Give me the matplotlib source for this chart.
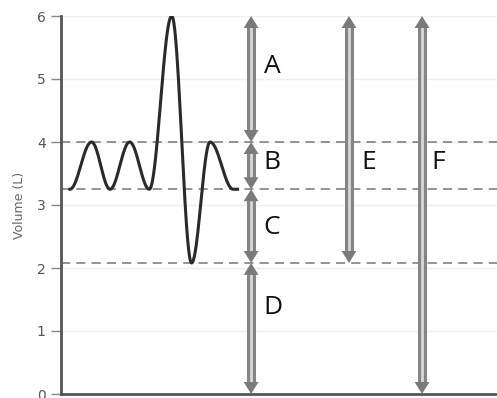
import matplotlib as mpl
mpl.use("Agg")
from matplotlib import pyplot as plt
import numpy as np

# spirogram turning points (time in s, volume in L)
turn_t = [0.41, 1.40, 2.25, 3.15, 4.05, 5.08, 5.99, 6.84, 7.90, 8.10]
turn_v = [3.25, 4.0, 3.25, 4.0, 3.25, 6.0, 2.08, 4.0, 3.25, 3.25]

# reference levels (dashed lines)
levels = [4.0, 3.25, 2.08]

# labelled volume arrows: name, x, bottom, top, label x, label y
arrow_names = ["A", "B", "C", "D", "E", "F"]
arrow_x = [8.72, 8.72, 8.72, 8.72, 13.21, 16.56]
arrow_lo = [4.0, 3.25, 2.08, 0.0, 2.08, 0.0]
arrow_hi = [6.0, 4.0, 3.25, 2.08, 6.0, 6.0]
label_x = [9.3, 9.3, 9.3, 9.3, 13.8, 17.0]
label_y = [5.2, 3.67, 2.65, 1.38, 3.67, 3.67]


def smooth_path(ts, vs, n=40):
    # half-cosine easing between successive turning points
    xs, ys = [], []
    for i in range(len(ts) - 1):
        s = np.linspace(0, 1, n)
        e = (1 - np.cos(np.pi * s)) / 2
        xs.append(ts[i] + (ts[i + 1] - ts[i]) * s)
        ys.append(vs[i] + (vs[i + 1] - vs[i]) * e)
    return np.concatenate(xs), np.concatenate(ys)


def draw_arrow(ax, x, lo, hi):
    hl = 0.19  # head length in data units (volume)
    ax.plot([x, x], [lo + hl * 0.8, hi - hl * 0.8], color="#858585", lw=6.5,
            solid_capstyle="butt", zorder=4)
    ax.plot([x, x], [lo + hl * 0.8, hi - hl * 0.8], color="#d8d8d8", lw=2.0,
            solid_capstyle="butt", zorder=5)
    for tip, base in [(hi, hi - hl), (lo, lo + hl)]:
        ax.fill([x - 0.34, x + 0.34, x], [base, base, tip], color="#7a7a7a",
                lw=0, zorder=6)


fig = plt.figure(figsize=(4.97, 3.98), dpi=100)
ax = fig.add_axes([61 / 497, 4 / 398, 436 / 497, 378 / 398])
ax.set_xlim(0, 20)
ax.set_ylim(0, 6)

for v in range(1, 7):
    ax.axhline(v, color="#efefef", lw=1, zorder=0)
for v in levels:
    ax.axhline(v, color="#777777", lw=1.1, ls=(0, (6, 4)), zorder=1)

t, v = smooth_path(turn_t, turn_v)
ax.plot(t, v, color="#2a2a2a", lw=2.2, zorder=3)

for name, x, lo, hi, lx, ly in zip(arrow_names, arrow_x, arrow_lo, arrow_hi,
                                   label_x, label_y):
    draw_arrow(ax, x, lo, hi)
    ax.text(lx, ly, name, fontsize=19, family="Open Sans", color="#111111",
            ha="left", va="center", zorder=7)

for side in ["top", "right"]:
    ax.spines[side].set_visible(False)
for side in ["left", "bottom"]:
    ax.spines[side].set_color("#555555")
    ax.spines[side].set_linewidth(2)

ax.set_xticks([])
ax.set_yticks(range(0, 7))
ax.tick_params(axis="y", length=7, width=1, color="#888888", pad=4,
               labelsize=10, labelcolor="#555555")
ax.set_ylabel("Volume (L)", fontsize=9, color="#666666", labelpad=8)

plt.savefig("out.png", dpi=100)
